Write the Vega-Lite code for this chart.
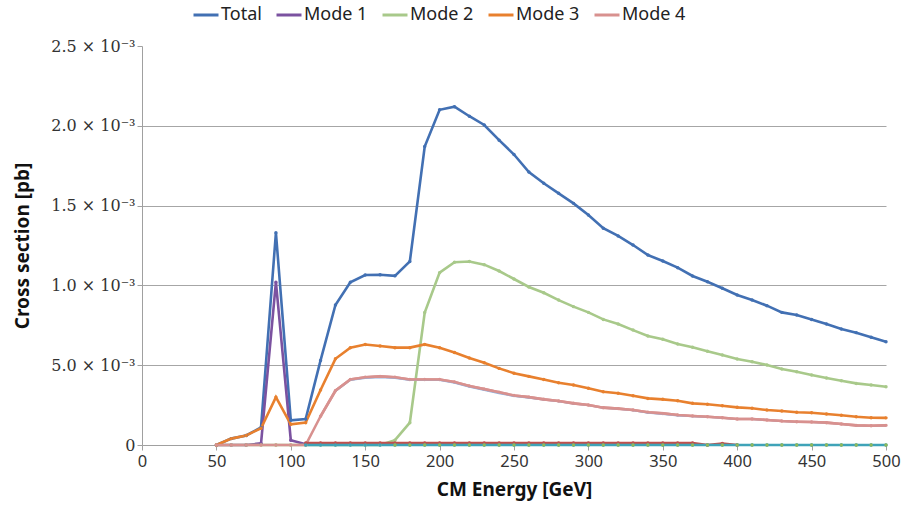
{
  "$schema": "https://vega.github.io/schema/vega-lite/v6.json",
  "width": 744,
  "height": 399,
  "autosize": "none",
  "padding": {"left": 142, "top": 46, "right": 25, "bottom": 71},
  "background": "white",
  "config": {
    "font": "Noto Sans",
    "view": {"stroke": null},
    "axis": {"labelFont": "Noto Sans", "titleFont": "Noto Sans", "labelFlush": false},
    "legend": {"labelFont": "Noto Sans"}
  },
  "datasets": {
    "series": [
      {"E":50,"mode":"Total","xs":0.0},{"E":60,"mode":"Total","xs":0.00004},{"E":70,"mode":"Total","xs":0.00006},{"E":80,"mode":"Total","xs":0.00011},{"E":90,"mode":"Total","xs":0.00133},{"E":100,"mode":"Total","xs":0.000155},{"E":110,"mode":"Total","xs":0.000163},{"E":120,"mode":"Total","xs":0.00053},{"E":130,"mode":"Total","xs":0.000877},{"E":140,"mode":"Total","xs":0.00102},{"E":150,"mode":"Total","xs":0.001065},{"E":160,"mode":"Total","xs":0.001067},{"E":170,"mode":"Total","xs":0.00106},{"E":180,"mode":"Total","xs":0.00115},{"E":190,"mode":"Total","xs":0.00187},{"E":200,"mode":"Total","xs":0.0021},{"E":210,"mode":"Total","xs":0.00212},{"E":220,"mode":"Total","xs":0.00206},{"E":230,"mode":"Total","xs":0.002005},{"E":240,"mode":"Total","xs":0.00191},{"E":250,"mode":"Total","xs":0.00182},{"E":260,"mode":"Total","xs":0.00171},{"E":270,"mode":"Total","xs":0.00164},{"E":280,"mode":"Total","xs":0.001577},{"E":290,"mode":"Total","xs":0.001514},{"E":300,"mode":"Total","xs":0.001441},{"E":310,"mode":"Total","xs":0.001358},{"E":320,"mode":"Total","xs":0.00131},{"E":330,"mode":"Total","xs":0.001253},{"E":340,"mode":"Total","xs":0.00119},{"E":350,"mode":"Total","xs":0.001153},{"E":360,"mode":"Total","xs":0.001111},{"E":370,"mode":"Total","xs":0.001059},{"E":380,"mode":"Total","xs":0.001023},{"E":390,"mode":"Total","xs":0.000982},{"E":400,"mode":"Total","xs":0.00094},{"E":410,"mode":"Total","xs":0.000909},{"E":420,"mode":"Total","xs":0.000873},{"E":430,"mode":"Total","xs":0.000831},{"E":440,"mode":"Total","xs":0.000815},{"E":450,"mode":"Total","xs":0.000787},{"E":460,"mode":"Total","xs":0.000758},{"E":470,"mode":"Total","xs":0.000727},{"E":480,"mode":"Total","xs":0.000704},{"E":490,"mode":"Total","xs":0.000675},{"E":500,"mode":"Total","xs":0.000647},

      {"E":50,"mode":"Mode 1","xs":0},{"E":60,"mode":"Mode 1","xs":0},{"E":70,"mode":"Mode 1","xs":0},{"E":80,"mode":"Mode 1","xs":0.00001},{"E":90,"mode":"Mode 1","xs":0.00102},{"E":100,"mode":"Mode 1","xs":0.00003},{"E":110,"mode":"Mode 1","xs":0.000005},

      {"E":50,"mode":"Mode 2","xs":0},{"E":60,"mode":"Mode 2","xs":0},{"E":70,"mode":"Mode 2","xs":0},{"E":80,"mode":"Mode 2","xs":0},{"E":90,"mode":"Mode 2","xs":0},{"E":100,"mode":"Mode 2","xs":0},{"E":110,"mode":"Mode 2","xs":0},{"E":120,"mode":"Mode 2","xs":0},{"E":130,"mode":"Mode 2","xs":0},{"E":140,"mode":"Mode 2","xs":0},{"E":150,"mode":"Mode 2","xs":0},{"E":160,"mode":"Mode 2","xs":0},{"E":170,"mode":"Mode 2","xs":0.00003},{"E":180,"mode":"Mode 2","xs":0.00014},{"E":190,"mode":"Mode 2","xs":0.00083},{"E":200,"mode":"Mode 2","xs":0.00108},{"E":210,"mode":"Mode 2","xs":0.001145},{"E":220,"mode":"Mode 2","xs":0.00115},{"E":230,"mode":"Mode 2","xs":0.00113},{"E":240,"mode":"Mode 2","xs":0.00109},{"E":250,"mode":"Mode 2","xs":0.00104},{"E":260,"mode":"Mode 2","xs":0.00099},{"E":270,"mode":"Mode 2","xs":0.000954},{"E":280,"mode":"Mode 2","xs":0.000908},{"E":290,"mode":"Mode 2","xs":0.000867},{"E":300,"mode":"Mode 2","xs":0.000831},{"E":310,"mode":"Mode 2","xs":0.000787},{"E":320,"mode":"Mode 2","xs":0.000758},{"E":330,"mode":"Mode 2","xs":0.00072},{"E":340,"mode":"Mode 2","xs":0.000683},{"E":350,"mode":"Mode 2","xs":0.000662},{"E":360,"mode":"Mode 2","xs":0.000633},{"E":370,"mode":"Mode 2","xs":0.000612},{"E":380,"mode":"Mode 2","xs":0.000587},{"E":390,"mode":"Mode 2","xs":0.000564},{"E":400,"mode":"Mode 2","xs":0.000539},{"E":410,"mode":"Mode 2","xs":0.000522},{"E":420,"mode":"Mode 2","xs":0.000501},{"E":430,"mode":"Mode 2","xs":0.000476},{"E":440,"mode":"Mode 2","xs":0.000459},{"E":450,"mode":"Mode 2","xs":0.000439},{"E":460,"mode":"Mode 2","xs":0.00042},{"E":470,"mode":"Mode 2","xs":0.000403},{"E":480,"mode":"Mode 2","xs":0.000386},{"E":490,"mode":"Mode 2","xs":0.000376},{"E":500,"mode":"Mode 2","xs":0.000365},

      {"E":50,"mode":"Mode 3","xs":0},{"E":60,"mode":"Mode 3","xs":0.00004},{"E":70,"mode":"Mode 3","xs":0.00006},{"E":80,"mode":"Mode 3","xs":0.000105},{"E":90,"mode":"Mode 3","xs":0.0003},{"E":100,"mode":"Mode 3","xs":0.00013},{"E":110,"mode":"Mode 3","xs":0.00014},{"E":120,"mode":"Mode 3","xs":0.000345},{"E":130,"mode":"Mode 3","xs":0.00054},{"E":140,"mode":"Mode 3","xs":0.00061},{"E":150,"mode":"Mode 3","xs":0.00063},{"E":160,"mode":"Mode 3","xs":0.00062},{"E":170,"mode":"Mode 3","xs":0.00061},{"E":180,"mode":"Mode 3","xs":0.00061},{"E":190,"mode":"Mode 3","xs":0.00063},{"E":200,"mode":"Mode 3","xs":0.00061},{"E":210,"mode":"Mode 3","xs":0.00058},{"E":220,"mode":"Mode 3","xs":0.000545},{"E":230,"mode":"Mode 3","xs":0.000515},{"E":240,"mode":"Mode 3","xs":0.00048},{"E":250,"mode":"Mode 3","xs":0.00045},{"E":260,"mode":"Mode 3","xs":0.00043},{"E":270,"mode":"Mode 3","xs":0.00041},{"E":280,"mode":"Mode 3","xs":0.00039},{"E":290,"mode":"Mode 3","xs":0.000376},{"E":300,"mode":"Mode 3","xs":0.000355},{"E":310,"mode":"Mode 3","xs":0.000334},{"E":320,"mode":"Mode 3","xs":0.000324},{"E":330,"mode":"Mode 3","xs":0.000309},{"E":340,"mode":"Mode 3","xs":0.000292},{"E":350,"mode":"Mode 3","xs":0.000286},{"E":360,"mode":"Mode 3","xs":0.000277},{"E":370,"mode":"Mode 3","xs":0.000261},{"E":380,"mode":"Mode 3","xs":0.000255},{"E":390,"mode":"Mode 3","xs":0.000246},{"E":400,"mode":"Mode 3","xs":0.000236},{"E":410,"mode":"Mode 3","xs":0.00023},{"E":420,"mode":"Mode 3","xs":0.000219},{"E":430,"mode":"Mode 3","xs":0.000213},{"E":440,"mode":"Mode 3","xs":0.000205},{"E":450,"mode":"Mode 3","xs":0.000202},{"E":460,"mode":"Mode 3","xs":0.000194},{"E":470,"mode":"Mode 3","xs":0.000186},{"E":480,"mode":"Mode 3","xs":0.000177},{"E":490,"mode":"Mode 3","xs":0.000171},{"E":500,"mode":"Mode 3","xs":0.00017},

      {"E":130,"mode":"Mode 7","xs":0.000335},{"E":140,"mode":"Mode 7","xs":0.000405},{"E":150,"mode":"Mode 7","xs":0.000418},{"E":160,"mode":"Mode 7","xs":0.000422},{"E":170,"mode":"Mode 7","xs":0.000418},{"E":180,"mode":"Mode 7","xs":0.000405},{"E":190,"mode":"Mode 7","xs":0.000405},{"E":200,"mode":"Mode 7","xs":0.000405},{"E":210,"mode":"Mode 7","xs":0.000388},{"E":220,"mode":"Mode 7","xs":0.000362},{"E":230,"mode":"Mode 7","xs":0.000342},{"E":240,"mode":"Mode 7","xs":0.000322},{"E":250,"mode":"Mode 7","xs":0.000304},{"E":260,"mode":"Mode 7","xs":0.000294},{"E":270,"mode":"Mode 7","xs":0.000282},{"E":280,"mode":"Mode 7","xs":0.000272},{"E":290,"mode":"Mode 7","xs":0.000258},{"E":300,"mode":"Mode 7","xs":0.000248},{"E":310,"mode":"Mode 7","xs":0.000231},{"E":320,"mode":"Mode 7","xs":0.000225},{"E":330,"mode":"Mode 7","xs":0.000215},{"E":340,"mode":"Mode 7","xs":0.0002},{"E":350,"mode":"Mode 7","xs":0.000192},{"E":360,"mode":"Mode 7","xs":0.000183},{"E":370,"mode":"Mode 7","xs":0.000178},{"E":380,"mode":"Mode 7","xs":0.000174},{"E":390,"mode":"Mode 7","xs":0.000169},{"E":400,"mode":"Mode 7","xs":0.000161},{"E":410,"mode":"Mode 7","xs":0.000161},{"E":420,"mode":"Mode 7","xs":0.000155},{"E":430,"mode":"Mode 7","xs":0.000148},{"E":440,"mode":"Mode 7","xs":0.000144},{"E":450,"mode":"Mode 7","xs":0.000142},{"E":460,"mode":"Mode 7","xs":0.000138},{"E":470,"mode":"Mode 7","xs":0.00013},{"E":480,"mode":"Mode 7","xs":0.000121},{"E":490,"mode":"Mode 7","xs":0.000119},{"E":500,"mode":"Mode 7","xs":0.000121},

      {"E":50,"mode":"Mode 4","xs":0},{"E":60,"mode":"Mode 4","xs":0},{"E":70,"mode":"Mode 4","xs":0},{"E":80,"mode":"Mode 4","xs":0},{"E":90,"mode":"Mode 4","xs":0},{"E":100,"mode":"Mode 4","xs":0},{"E":110,"mode":"Mode 4","xs":0},{"E":120,"mode":"Mode 4","xs":0.00018},{"E":130,"mode":"Mode 4","xs":0.00034},{"E":140,"mode":"Mode 4","xs":0.00041},{"E":150,"mode":"Mode 4","xs":0.000425},{"E":160,"mode":"Mode 4","xs":0.00043},{"E":170,"mode":"Mode 4","xs":0.000425},{"E":180,"mode":"Mode 4","xs":0.00041},{"E":190,"mode":"Mode 4","xs":0.00041},{"E":200,"mode":"Mode 4","xs":0.00041},{"E":210,"mode":"Mode 4","xs":0.000395},{"E":220,"mode":"Mode 4","xs":0.00037},{"E":230,"mode":"Mode 4","xs":0.00035},{"E":240,"mode":"Mode 4","xs":0.00033},{"E":250,"mode":"Mode 4","xs":0.00031},{"E":260,"mode":"Mode 4","xs":0.0003},{"E":270,"mode":"Mode 4","xs":0.000286},{"E":280,"mode":"Mode 4","xs":0.000276},{"E":290,"mode":"Mode 4","xs":0.000261},{"E":300,"mode":"Mode 4","xs":0.000251},{"E":310,"mode":"Mode 4","xs":0.000234},{"E":320,"mode":"Mode 4","xs":0.000228},{"E":330,"mode":"Mode 4","xs":0.000219},{"E":340,"mode":"Mode 4","xs":0.000205},{"E":350,"mode":"Mode 4","xs":0.000198},{"E":360,"mode":"Mode 4","xs":0.000188},{"E":370,"mode":"Mode 4","xs":0.000182},{"E":380,"mode":"Mode 4","xs":0.000177},{"E":390,"mode":"Mode 4","xs":0.000171},{"E":400,"mode":"Mode 4","xs":0.000163},{"E":410,"mode":"Mode 4","xs":0.000163},{"E":420,"mode":"Mode 4","xs":0.000157},{"E":430,"mode":"Mode 4","xs":0.00015},{"E":440,"mode":"Mode 4","xs":0.000146},{"E":450,"mode":"Mode 4","xs":0.000144},{"E":460,"mode":"Mode 4","xs":0.00014},{"E":470,"mode":"Mode 4","xs":0.000132},{"E":480,"mode":"Mode 4","xs":0.000123},{"E":490,"mode":"Mode 4","xs":0.000121},{"E":500,"mode":"Mode 4","xs":0.000123},

      {"E":110,"mode":"Mode 5","xs":0.000012},{"E":120,"mode":"Mode 5","xs":0.000012},{"E":130,"mode":"Mode 5","xs":0.000012},{"E":140,"mode":"Mode 5","xs":0.000012},{"E":150,"mode":"Mode 5","xs":0.000012},{"E":160,"mode":"Mode 5","xs":0.000012},{"E":170,"mode":"Mode 5","xs":0.000012},{"E":180,"mode":"Mode 5","xs":0.000012},{"E":190,"mode":"Mode 5","xs":0.000012},{"E":200,"mode":"Mode 5","xs":0.000012},{"E":210,"mode":"Mode 5","xs":0.000012},{"E":220,"mode":"Mode 5","xs":0.000012},{"E":230,"mode":"Mode 5","xs":0.000012},{"E":240,"mode":"Mode 5","xs":0.000012},{"E":250,"mode":"Mode 5","xs":0.000012},{"E":260,"mode":"Mode 5","xs":0.000012},{"E":270,"mode":"Mode 5","xs":0.000012},{"E":280,"mode":"Mode 5","xs":0.000012},{"E":290,"mode":"Mode 5","xs":0.000012},{"E":300,"mode":"Mode 5","xs":0.000012},{"E":310,"mode":"Mode 5","xs":0.000012},{"E":320,"mode":"Mode 5","xs":0.000012},{"E":330,"mode":"Mode 5","xs":0.000012},{"E":340,"mode":"Mode 5","xs":0.000012},{"E":350,"mode":"Mode 5","xs":0.000012},{"E":360,"mode":"Mode 5","xs":0.000012},{"E":370,"mode":"Mode 5","xs":0.000012},{"E":380,"mode":"Mode 5","xs":0.0},{"E":390,"mode":"Mode 5","xs":0.000009},{"E":400,"mode":"Mode 5","xs":0.0},

      {"E":110,"mode":"Mode 6","xs":0},{"E":120,"mode":"Mode 6","xs":0},{"E":130,"mode":"Mode 6","xs":0},{"E":140,"mode":"Mode 6","xs":0},{"E":150,"mode":"Mode 6","xs":0},{"E":160,"mode":"Mode 6","xs":0},{"E":170,"mode":"Mode 6","xs":0},{"E":180,"mode":"Mode 6","xs":0},{"E":190,"mode":"Mode 6","xs":0},{"E":200,"mode":"Mode 6","xs":0},{"E":210,"mode":"Mode 6","xs":0},{"E":220,"mode":"Mode 6","xs":0},{"E":230,"mode":"Mode 6","xs":0},{"E":240,"mode":"Mode 6","xs":0},{"E":250,"mode":"Mode 6","xs":0},{"E":260,"mode":"Mode 6","xs":0},{"E":270,"mode":"Mode 6","xs":0},{"E":280,"mode":"Mode 6","xs":0},{"E":290,"mode":"Mode 6","xs":0},{"E":300,"mode":"Mode 6","xs":0},{"E":310,"mode":"Mode 6","xs":0},{"E":320,"mode":"Mode 6","xs":0},{"E":330,"mode":"Mode 6","xs":0},{"E":340,"mode":"Mode 6","xs":0},{"E":350,"mode":"Mode 6","xs":0},{"E":360,"mode":"Mode 6","xs":0},{"E":370,"mode":"Mode 6","xs":0},{"E":380,"mode":"Mode 6","xs":0},{"E":390,"mode":"Mode 6","xs":0},{"E":400,"mode":"Mode 6","xs":0},{"E":410,"mode":"Mode 6","xs":0},{"E":420,"mode":"Mode 6","xs":0},{"E":430,"mode":"Mode 6","xs":0},{"E":440,"mode":"Mode 6","xs":0},{"E":450,"mode":"Mode 6","xs":0},{"E":460,"mode":"Mode 6","xs":0},{"E":470,"mode":"Mode 6","xs":0},{"E":480,"mode":"Mode 6","xs":0},{"E":490,"mode":"Mode 6","xs":0},{"E":500,"mode":"Mode 6","xs":0}
    ]
  },
  "data": {"name": "series"},
  "layer": [
    {
      "mark": {"type": "line", "strokeWidth": 2.6, "point": {"filled": true, "size": 12}},
      "transform": [{"filter": "datum.mode != 'Mode 7'"}],
      "encoding": {
        "x": {
          "field": "E", "type": "quantitative",
          "scale": {"domain": [0, 500], "nice": false},
          "axis": {
            "values": [0, 50, 100, 150, 200, 250, 300, 350, 400, 450, 500],
            "title": "CM Energy [GeV]",
            "grid": false,
            "labelFlush": false,
            "domainColor": "#a0a0a0",
            "tickColor": "#a0a0a0",
            "tickSize": 5,
            "labelFontSize": 16.5,
            "labelColor": "#333333",
            "labelPadding": 3,
            "titleFontSize": 19,
            "titleFontWeight": "bold",
            "titleColor": "#111111",
            "titlePadding": 11
          }
        },
        "y": {
          "field": "xs", "type": "quantitative",
          "scale": {"domain": [0, 0.0025], "nice": false},
          "axis": {
            "values": [0, 0.0005, 0.001, 0.0015, 0.002, 0.0025],
            "labelExpr": "datum.value == 0 ? '0' : (round(datum.value * 10000) == 5 ? '5.0 × 10⁻³' : format(datum.value * 1000, '.1f') + ' × 10⁻³')",
            "labelFont": "DejaVu Serif",
            "labelFlush": false,
            "title": "Cross section [pb]",
            "grid": true,
            "gridColor": {"condition": {"test": "datum.value >= 0.0025 || datum.value == 0", "value": "transparent"}, "value": "#a6a6a6"},
            "gridWidth": 1,
            "domainColor": "#a0a0a0",
            "tickColor": "#a0a0a0",
            "tickSize": 5,
            "labelFontSize": 16,
            "labelColor": "#333333",
            "labelPadding": 2,
            "titleFontSize": 19,
            "titleFontWeight": "bold",
            "titleColor": "#111111",
            "titleX": -110
          }
        },
        "color": {
          "field": "mode", "type": "nominal",
          "scale": {
            "domain": ["Total", "Mode 1", "Mode 2", "Mode 3", "Mode 4", "Mode 5", "Mode 6", "Mode 7"],
            "range": ["#4270b3", "#7b52a0", "#a8c98a", "#e8802e", "#d8918f", "#c0504d", "#3fa3b8", "#8eb4e3"]
          },
          "legend": {
            "values": ["Total", "Mode 1", "Mode 2", "Mode 3", "Mode 4"],
            "orient": "none",
            "direction": "horizontal",
            "legendX": 50,
            "legendY": -45,
            "title": null,
            "padding": 0,
            "symbolType": "stroke",
            "symbolSize": 625,
            "symbolStrokeWidth": 3,
            "labelFontSize": 18,
            "labelColor": "#222222",
            "labelOffset": 1,
            "columnPadding": 8
          }
        },
        "order": {"field": "E", "type": "quantitative"}
      }
    },
    {
      "mark": {"type": "line", "strokeWidth": 1.2},
      "transform": [{"filter": "datum.mode == 'Mode 7'"}],
      "encoding": {
        "x": {"field": "E", "type": "quantitative"},
        "y": {"field": "xs", "type": "quantitative"},
        "color": {"value": "#8eb4e3"}
      }
    },
    {
      "mark": {"type": "line", "strokeWidth": 2.6},
      "transform": [{"filter": "datum.mode == 'Mode 4' && datum.E >= 120"}],
      "encoding": {
        "x": {"field": "E", "type": "quantitative"},
        "y": {"field": "xs", "type": "quantitative"},
        "color": {"value": "#d8918f"}
      }
    },
    {
      "mark": {"type": "point", "filled": true, "size": 12, "opacity": 1},
      "transform": [{"filter": "datum.mode == 'Mode 6' && datum.E >= 170"}],
      "encoding": {
        "x": {"field": "E", "type": "quantitative"},
        "y": {"field": "xs", "type": "quantitative"},
        "color": {"value": "#8fb85a"}
      }
    }
  ]
}
